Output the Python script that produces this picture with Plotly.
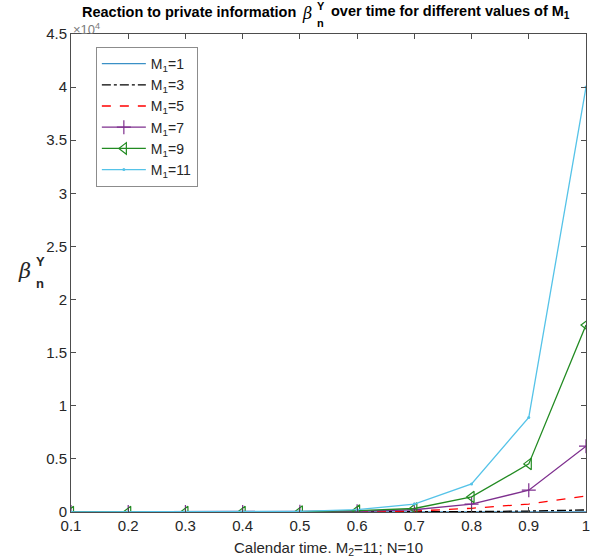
import plotly.graph_objects as go

# Calendar time grid and reaction coefficients for each M1
time = [0.1, 0.2, 0.3, 0.4, 0.5, 0.6, 0.7, 0.8, 0.9, 1.0]
beta_m1_1 = [0, 0, 0, 0, 0, 0, 1, 3, 8, 20]
beta_m1_3 = [0, 0, 0, 0, 1, 5, 15, 40, 90, 190]
beta_m1_5 = [0, 0, 0, 1, 8, 30, 90, 350, 750, 1500]
beta_m1_7 = [0, 0, 1, 5, 20, 70, 210, 750, 2050, 6200]
beta_m1_9 = [0, 0, 1, 8, 40, 130, 330, 1420, 4530, 17600]
beta_m1_11 = [0, 0, 2, 10, 60, 220, 750, 2640, 8900, 40000]

x_ticks = [0.1, 0.2, 0.3, 0.4, 0.5, 0.6, 0.7, 0.8, 0.9, 1.0]
x_tick_text = ["0.1", "0.2", "0.3", "0.4", "0.5", "0.6", "0.7", "0.8", "0.9", "1"]
y_ticks = [0, 5000, 10000, 15000, 20000, 25000, 30000, 35000, 40000, 45000]
y_tick_text = ["0", "0.5", "1", "1.5", "2", "2.5", "3", "3.5", "4", "4.5"]

FONT = "Liberation Sans, Arial, sans-serif"
SERIF = "DejaVu Serif, serif"
AXIS_GRAY = "#4d4d4d"
TEXT_GRAY = "#262626"

W, H = 602, 559
ML, MR, MT, MB = 71, 13, 34, 47
PW, PH = W - ML - MR, H - MT - MB


def px(xp):
    """Horizontal pixel position -> paper coordinate."""
    return (xp - ML) / PW


def py(yp):
    """Vertical pixel position (from top) -> paper coordinate."""
    return (H - MB - yp) / PH


series = [
    ("M<sub>1</sub>=1", beta_m1_1, "#3a90c6", "solid", None),
    ("M<sub>1</sub>=3", beta_m1_3, "#000000", "dashdot", None),
    ("M<sub>1</sub>=5", beta_m1_5, "#FF0000", "dash", None),
    ("M<sub>1</sub>=7", beta_m1_7, "#7E2F8E", "solid",
     dict(symbol="cross-thin-open", size=10, line=dict(width=1.2, color="#7E2F8E"))),
    ("M<sub>1</sub>=9", beta_m1_9, "#228B22", "solid",
     dict(symbol="triangle-left-open", size=10, line=dict(width=1.2, color="#228B22"))),
    ("M<sub>1</sub>=11", beta_m1_11, "#55C3E8", "solid", dict(symbol="circle", size=3, color="#55C3E8")),
]

fig = go.Figure()
for name, vals, color, dash, marker in series:
    fig.add_trace(go.Scatter(
        x=time, y=vals, name=name,
        mode="lines+markers" if marker else "lines",
        line=dict(color=color, width=1.3, dash=dash),
        marker=marker,
    ))

axis_common = dict(
    showgrid=False, zeroline=False, showline=True, linecolor=AXIS_GRAY, linewidth=1,
    mirror="ticks", ticks="inside", ticklen=5, tickcolor=AXIS_GRAY,
    tickfont=dict(family=FONT, size=15, color=TEXT_GRAY),
)

fig.update_layout(
    width=W, height=H,
    margin=dict(l=ML, r=MR, t=MT, b=MB),
    paper_bgcolor="white", plot_bgcolor="white",
    font=dict(family=FONT, color=TEXT_GRAY),
    xaxis=dict(range=[0.1, 1.0], tickvals=x_ticks, ticktext=x_tick_text, **axis_common),
    yaxis=dict(range=[0, 45000], tickvals=y_ticks, ticktext=y_tick_text, **axis_common),
    showlegend=True,
    legend=dict(
        x=px(96), y=py(47), xanchor="left", yanchor="top",
        bgcolor="white", bordercolor="#8c8c8c", borderwidth=1,
        font=dict(family=FONT, size=14, color=TEXT_GRAY),
        tracegroupgap=0, itemwidth=44,
    ),
)

title_font = dict(family=FONT, size=14.5, color="black")
annotations = [
    # title, split around the stacked scripts of beta
    dict(text="<b>Reaction to private information</b>", x=px(299), y=py(12),
         xanchor="right", yanchor="middle", font=title_font),
    dict(text="<i>β</i>", x=px(308), y=py(13), xanchor="center", yanchor="middle",
         font=dict(family=SERIF, size=16, color="black")),
    dict(text="<b>Y</b>", x=px(322), y=py(6), xanchor="center", yanchor="middle",
         font=dict(family=FONT, size=11, color="black")),
    dict(text="<b>n</b>", x=px(322), y=py(23), xanchor="center", yanchor="middle",
         font=dict(family=FONT, size=11, color="black")),
    dict(text="<b>over time for different values of M<sub>1</sub></b>", x=px(330), y=py(12),
         xanchor="left", yanchor="middle", font=title_font),
    # axis exponent
    dict(text="×10<sup>4</sup>", x=0.0, y=py(29), xanchor="left", yanchor="middle",
         font=dict(family=FONT, size=13, color="#7a7a7a")),
    # x-axis label
    dict(text="Calendar time. M<sub>2</sub>=11; N=10", x=0.5, y=py(548),
         xanchor="center", yanchor="middle", font=dict(family=FONT, size=15, color=TEXT_GRAY)),
    # y-axis label: beta with stacked Y / n
    dict(text="<i>β</i>", x=px(24), y=py(271), xanchor="center", yanchor="middle",
         font=dict(family=SERIF, size=21, color=TEXT_GRAY)),
    dict(text="<b>Y</b>", x=px(40), y=py(261), xanchor="center", yanchor="middle",
         font=dict(family=FONT, size=13, color=TEXT_GRAY)),
    dict(text="<b>n</b>", x=px(40), y=py(283), xanchor="center", yanchor="middle",
         font=dict(family=FONT, size=13, color=TEXT_GRAY)),
]
for a in annotations:
    a.update(xref="paper", yref="paper", showarrow=False)
fig.update_layout(annotations=annotations)

fig.write_html("out.html")
